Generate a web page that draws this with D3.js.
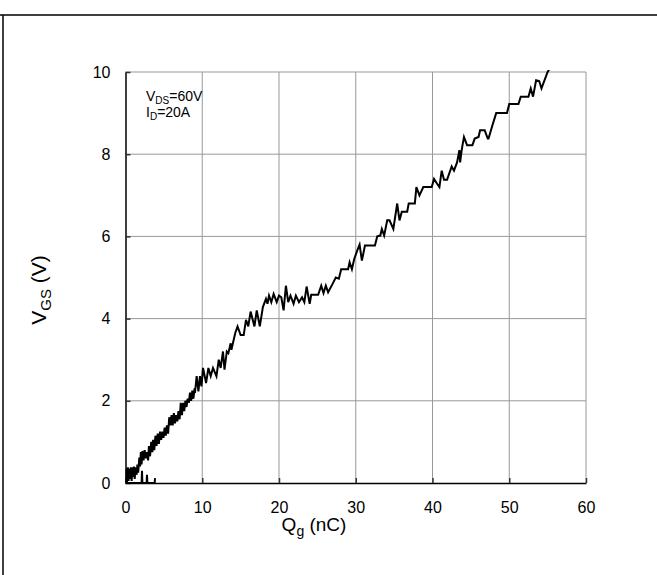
<!DOCTYPE html>
<html>
<head>
<meta charset="utf-8">
<script src="https://cdn.jsdelivr.net/npm/d3@7"></script>
<style>
  body { margin: 0; background: #fff; }
  svg text { font-family: "Liberation Sans", Arial, sans-serif; fill: #000; }
</style>
</head>
<body>
<svg id="chart" width="657" height="575"></svg>
<script>
// tick values
var xTicks = [0, 10, 20, 30, 40, 50, 60];
var yTicks = [0, 2, 4, 6, 8, 10];

// test conditions
var conditions = [
  { main: "V", sub: "DS", rest: "=60V" },
  { main: "I", sub: "D", rest: "=20A" }
];

// noise near zero before the ramp starts (sits on the axis)
var startNoise = [
  [3.85, 0.12], [3.8, 0], [2.85, 0], [2.8, 0.2], [2.75, 0], [2.2, 0],
  [2.15, 0.3], [2.1, 0], [0, 0]
];

// first ramp, Qg 0..9 nC
var rampLow = [
  [0.0, 0.05], [0.1, 0.35], [0.2, 0.02], [0.3, 0.38], [0.4, 0.05], [0.5, 0.35],
  [0.6, 0.1], [0.7, 0.38], [0.8, 0.05], [0.9, 0.38], [1.0, 0.15], [1.1, 0.4],
  [1.2, 0.1], [1.3, 0.38], [1.45, 0.2], [1.55, 0.45], [1.65, 0.25], [1.8, 0.62],
  [1.9, 0.4], [2.0, 0.75], [2.1, 0.45], [2.2, 0.78], [2.35, 0.55], [2.5, 0.8],
  [2.65, 0.6], [2.8, 0.75], [2.95, 0.55], [3.05, 0.9], [3.2, 0.65], [3.35, 1.0],
  [3.5, 0.75], [3.6, 1.05], [3.75, 0.8], [3.9, 1.15], [4.05, 0.9], [4.2, 1.2],
  [4.35, 0.95], [4.5, 1.25], [4.65, 1.05], [4.8, 1.25], [4.95, 1.1], [5.1, 1.35],
  [5.25, 1.15], [5.4, 1.4], [5.55, 1.2], [5.7, 1.6], [5.85, 1.4], [6.0, 1.65],
  [6.15, 1.4], [6.3, 1.7], [6.45, 1.45], [6.6, 1.65], [6.75, 1.5], [6.9, 1.75],
  [7.05, 1.55], [7.2, 1.95], [7.35, 1.65], [7.5, 1.95], [7.65, 1.75], [7.8, 2.0],
  [7.95, 1.85], [8.1, 2.05], [8.25, 1.95], [8.4, 2.2], [8.55, 2.0], [8.7, 2.25],
  [8.85, 2.05], [9.0, 2.3]
];

// rest of first ramp up to the plateau, Qg 9..18 nC
var rampMid = [
  [9.05, 2.19], [9.27, 2.6], [9.5, 2.23], [9.7, 2.6], [9.9, 2.35], [10.1, 2.8],
  [10.5, 2.43], [10.8, 2.8], [11.1, 2.6], [11.4, 2.8], [11.85, 2.6], [12.15, 3.0],
  [12.4, 2.8], [12.7, 3.2], [12.9, 2.76], [13.2, 3.2], [13.4, 3.16], [13.7, 3.4],
  [13.8, 3.24], [14.3, 3.65], [14.6, 3.81], [15.0, 3.6], [15.4, 3.6], [15.7, 3.97],
  [16.0, 3.81], [16.3, 4.17], [16.8, 3.81], [17.1, 4.2], [17.5, 3.81], [17.9, 4.28]
];

// Miller plateau, Qg 18..26 nC
var plateau = [
  [18.3, 4.48], [18.5, 4.36], [18.7, 4.56], [19.0, 4.4], [19.3, 4.6], [19.7, 4.4],
  [20.0, 4.56], [20.3, 4.52], [20.6, 4.2], [20.9, 4.8], [21.2, 4.4], [21.5, 4.56],
  [21.9, 4.36], [22.2, 4.56], [22.6, 4.4], [23.0, 4.52], [23.3, 4.4], [23.6, 4.78],
  [24.0, 4.36], [24.2, 4.58], [25.1, 4.58], [25.5, 4.8], [25.8, 4.62], [26.1, 4.8],
  [26.4, 4.64]
];

// second ramp, Qg 26..55 nC
var rampHigh = [
  [27.0, 4.85], [27.4, 5.0], [27.8, 4.97], [28.1, 5.2], [29.0, 5.2], [29.2, 5.37],
  [29.5, 5.2], [29.8, 5.45], [30.2, 5.66], [30.5, 5.8], [30.8, 5.41], [31.2, 5.78],
  [32.5, 5.78], [32.8, 6.0], [33.2, 6.02], [33.4, 6.18], [33.7, 6.02], [34.1, 6.39],
  [34.4, 6.39], [34.9, 6.18], [35.4, 6.8], [35.7, 6.39], [36.0, 6.6], [36.7, 6.6],
  [36.9, 6.8], [37.7, 6.8], [37.9, 7.2], [38.3, 7.0], [38.8, 7.2], [39.9, 7.2],
  [40.2, 7.4], [40.6, 7.28], [40.9, 7.2], [41.2, 7.6], [41.5, 7.38], [41.9, 7.38],
  [42.5, 7.7], [42.8, 7.6], [43.2, 7.8], [43.5, 8.1], [43.6, 7.8], [43.8, 8.1],
  [44.1, 8.42], [44.5, 8.22], [45.2, 8.22], [45.5, 8.38], [46.0, 8.42], [46.2, 8.58],
  [46.8, 8.58], [47.2, 8.38], [47.3, 8.38], [47.8, 8.7], [48.3, 9.0], [49.7, 9.0],
  [50.0, 9.22], [51.2, 9.22], [51.5, 9.4], [52.5, 9.4], [52.8, 9.6], [53.1, 9.4],
  [53.5, 9.8], [53.9, 9.78], [54.2, 9.6], [55.0, 10.0], [55.3, 10.1]
];

var gateCharge = startNoise.concat(rampLow, rampMid, plateau, rampHigh);

function drawChart(){
  var svg = d3.select("#chart");
  var pLeft = 125.5, pRight = 586, pTop = 72, pBottom = 483;

  var x = d3.scaleLinear().domain([0, 60]).range([pLeft, pRight]);
  var y = d3.scaleLinear().domain([0, 10]).range([pBottom, pTop]);

  // outer frame (top and left edges only are visible)
  svg.append("line").attr("x1", 0).attr("x2", 657).attr("y1", 15).attr("y2", 15)
    .attr("stroke", "#000").attr("stroke-width", 1.5);
  svg.append("line").attr("x1", 3).attr("x2", 3).attr("y1", 15).attr("y2", 575)
    .attr("stroke", "#000").attr("stroke-width", 1.5);

  // grid
  var grid = svg.append("g").attr("stroke", "#999").attr("stroke-width", 1);
  grid.selectAll(".gx").data(xTicks.slice(1)).enter().append("line")
    .attr("x1", function(d){ return x(d); }).attr("x2", function(d){ return x(d); })
    .attr("y1", pTop).attr("y2", pBottom);
  grid.selectAll(".gy").data(yTicks.slice(1)).enter().append("line")
    .attr("x1", pLeft).attr("x2", pRight)
    .attr("y1", function(d){ return y(d); }).attr("y2", function(d){ return y(d); });

  // axes with inward ticks
  var xAxis = svg.append("g").attr("transform", "translate(0," + pBottom + ")")
    .call(d3.axisBottom(x).tickValues(xTicks).tickSizeInner(-5).tickSizeOuter(0).tickPadding(19));
  var yAxis = svg.append("g").attr("transform", "translate(" + pLeft + ",0)")
    .call(d3.axisLeft(y).tickValues(yTicks).tickSizeInner(-5).tickSizeOuter(0).tickPadding(15));

  [xAxis, yAxis].forEach(function(a){
    a.select(".domain").attr("stroke", "#000").attr("stroke-width", 1.5);
    a.selectAll(".tick line").attr("stroke", "#333").attr("stroke-width", 1.5);
    a.selectAll(".tick text").style("font-size", "16px")
      .style("font-family", "'Liberation Sans', Arial, sans-serif").attr("fill", "#000");
  });

  // curve
  var line = d3.line()
    .x(function(d){ return x(d[0]); })
    .y(function(d){ return y(d[1]); });

  svg.append("clipPath").attr("id", "plot-clip").append("rect")
    .attr("x", pLeft).attr("y", pTop - 2).attr("width", pRight - pLeft).attr("height", pBottom - pTop + 4);

  svg.append("path").datum(gateCharge)
    .attr("clip-path", "url(#plot-clip)")
    .attr("fill", "none").attr("stroke", "#000")
    .attr("stroke-width", 2).attr("stroke-linejoin", "miter")
    .attr("d", line);

  // test conditions
  conditions.forEach(function(c, i){
    var t = svg.append("text").attr("x", 146).attr("y", 101 + i * 16).style("font-size", "14px");
    t.append("tspan").text(c.main);
    t.append("tspan").attr("dy", 2.5).style("font-size", "10px").text(c.sub);
    t.append("tspan").attr("dy", -2.5).text(c.rest);
  });

  // axis titles
  var xt = svg.append("text").attr("x", 314).attr("y", 531)
    .attr("text-anchor", "middle").style("font-size", "19px");
  xt.append("tspan").text("Q");
  xt.append("tspan").attr("dy", 5).style("font-size", "14px").text("g");
  xt.append("tspan").attr("dy", -5).text(" (nC)");

  var yt = svg.append("text").attr("transform", "translate(46,290) rotate(-90)")
    .attr("text-anchor", "middle").style("font-size", "21px");
  yt.append("tspan").text("V");
  yt.append("tspan").attr("dy", 5).style("font-size", "15px").text("GS");
  yt.append("tspan").attr("dy", -5).text(" (V)");
}

drawChart();
</script>
</body>
</html>
